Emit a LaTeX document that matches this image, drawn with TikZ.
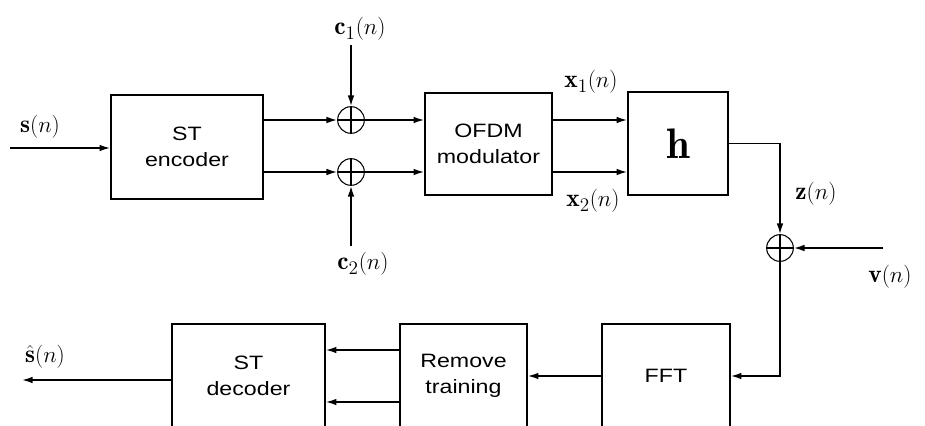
\documentclass[tikz,border=0pt]{standalone}
\usepackage{tikz}
\usepackage{amsmath}
\usepackage{fontspec}
\newfontfamily\boxfont[FakeStretch=1.2]{Liberation Sans}
\usetikzlibrary{arrows.meta,calc}

\tikzset{
  blk/.style={draw, line width=1.2pt, align=center, inner sep=0pt,
    font=\boxfont\fontsize{14.5}{20}\selectfont},
  sig/.style={line width=1.2pt, -{Latex[length=8pt,width=5pt]}},
  sumnode/.style={circle, draw, line width=0.8pt, minimum size=20pt, inner sep=0pt,
    path picture={\draw[line width=0.8pt] (path picture bounding box.north) -- (path picture bounding box.south)
      (path picture bounding box.west) -- (path picture bounding box.east);}},
  lbl/.style={inner sep=0.75pt, font=\fontsize{19}{22}\selectfont},
}

\begin{document}
\begin{tikzpicture}[x=0.75pt,y=0.75pt,yscale=-1,xscale=1]
\path[use as bounding box] (0,0) rectangle (925,425);
\clip (0,0) rectangle (925,425);

%Shape: Rectangle [transmitter]
\node[blk, minimum width=114pt, minimum height=78pt] (enc) at (187,147) {ST\\encoder};
\node[blk, minimum width=95.25pt, minimum height=76.5pt] (ofdm) at (488.5,144) {OFDM\\modulator};
\node[blk, minimum width=75pt, minimum height=77.25pt, font=\fontsize{32}{36}\selectfont] (chan) at (678,143.5) {$\mathbf{h}$};
%Shape: Rectangle [receiver]
\node[blk, minimum width=96pt, minimum height=78pt] (fft) at (666,376) {FFT};
\node[blk, minimum width=95.25pt, minimum height=78pt] (rt) at (463.5,376) {Remove\\training};
\node[blk, minimum width=114.75pt, minimum height=78pt] (dec) at (248.5,376) {ST\\decoder};

%Shape: Circle [adders]
\node[sumnode] (add1) at (351,120) {};
\node[sumnode] (add2) at (351,172) {};
\node[sumnode] (add3) at (780,248) {};

% free ends
\coordinate (sin) at (10,148);
\coordinate (c1in) at (351,45);
\coordinate (c2in) at (351,246);
\coordinate (vin) at (883,248);
\coordinate (sout) at (22,380);

%Straight Lines
\draw[sig] (sin) -- (sin -| enc.west);
\draw[sig] (enc.east |- add1) -- (add1);
\draw[sig] (enc.east |- add2) -- (add2);
\draw[sig] (c1in) -- (add1);
\draw[sig] (c2in) -- (add2);
\draw[sig] (add1) -- (add1 -| ofdm.west);
\draw[sig] (add2) -- (add2 -| ofdm.west);
\draw[sig] (ofdm.east |- add1) -- (add1 -| chan.west);
\draw[sig] (ofdm.east |- add2) -- (add2 -| chan.west);
\draw[sig] (chan.east) -| (add3);
\draw[sig] (vin) -- (add3);
\draw[sig] (add3) |- (fft.east);
\draw[sig] (fft) -- (rt);
\draw[sig] ($(rt.west)+(0,-26)$) -- ($(dec.east)+(0,-26)$);
\draw[sig] ($(rt.west)+(0,26)$) -- ($(dec.east)+(0,26)$);
\draw[sig] (dec.west |- sout) -- (sout);

% Text Node
\node[lbl] (slbl) at (40,127) {$\mathbf{s}(n)$};
% Text Node
\node[lbl] (c1lbl) at (360,29) {$\mathbf{c}_1(n)$};
% Text Node
\node[lbl] (c2lbl) at (363,264) {$\mathbf{c}_2(n)$};
% Text Node
\node[lbl] (x1lbl) at (591,82) {$\mathbf{x}_1(n)$};
% Text Node
\node[lbl] (x2lbl) at (593,201) {$\mathbf{x}_2(n)$};
% Text Node
\node[lbl] (zlbl) at (816,194) {$\mathbf{z}(n)$};
% Text Node
\node[lbl] (vlbl) at (890,277) {$\mathbf{v}(n)$};
% Text Node
\node[lbl] (shatlbl) at (45,357) {$\hat{\mathbf{s}}(n)$};

\end{tikzpicture}
\end{document}
